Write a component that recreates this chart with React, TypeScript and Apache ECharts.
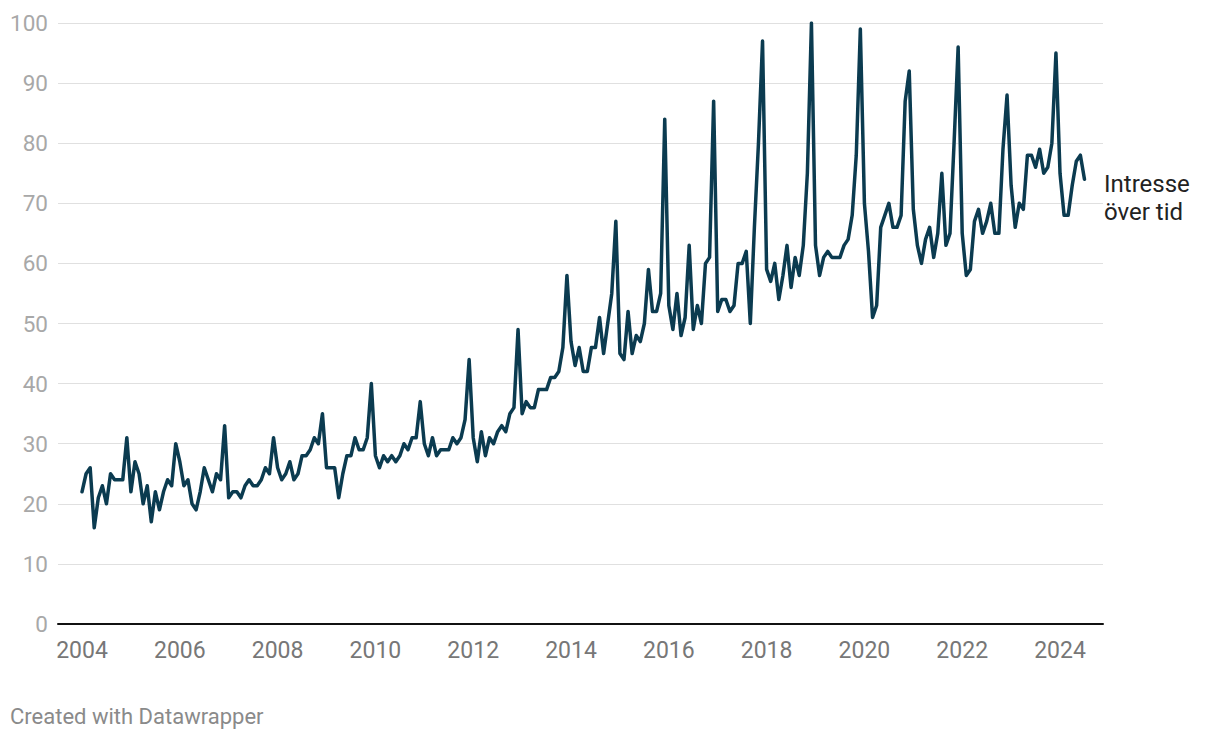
import React, { useEffect, useRef } from "react";
import * as echarts from "echarts";

// Monthly values, Jan 2004 – Jul 2024
const v2004 = [22, 25, 26, 16, 21, 23, 20, 25, 24, 24, 24, 31];
const v2005 = [22, 27, 25, 20, 23, 17, 22, 19, 22, 24, 23, 30];
const v2006 = [27, 23, 24, 20, 19, 22, 26, 24, 22, 25, 24, 33];
const v2007 = [21, 22, 22, 21, 23, 24, 23, 23, 24, 26, 25, 31];
const v2008 = [26, 24, 25, 27, 24, 25, 28, 28, 29, 31, 30, 35];
const v2009 = [26, 26, 26, 21, 25, 28, 28, 31, 29, 29, 31, 40];
const v2010 = [28, 26, 28, 27, 28, 27, 28, 30, 29, 31, 31, 37];
const v2011 = [30, 28, 31, 28, 29, 29, 29, 31, 30, 31, 34, 44];
const v2012 = [31, 27, 32, 28, 31, 30, 32, 33, 32, 35, 36, 49];
const v2013 = [35, 37, 36, 36, 39, 39, 39, 41, 41, 42, 46, 58];
const v2014 = [47, 43, 46, 42, 42, 46, 46, 51, 45, 50, 55, 67];
const v2015 = [45, 44, 52, 45, 48, 47, 50, 59, 52, 52, 55, 84];
const v2016 = [53, 49, 55, 48, 51, 63, 49, 53, 50, 60, 61, 87];
const v2017 = [52, 54, 54, 52, 53, 60, 60, 62, 50, 66, 80, 97];
const v2018 = [59, 57, 60, 54, 58, 63, 56, 61, 58, 63, 75, 100];
const v2019 = [63, 58, 61, 62, 61, 61, 61, 63, 64, 68, 78, 99];
const v2020 = [70, 62, 51, 53, 66, 68, 70, 66, 66, 68, 87, 92];
const v2021 = [69, 63, 60, 64, 66, 61, 65, 75, 63, 65, 80, 96];
const v2022 = [65, 58, 59, 67, 69, 65, 67, 70, 65, 65, 79, 88];
const v2023 = [73, 66, 70, 69, 78, 78, 76, 79, 75, 76, 80, 95];
const v2024 = [75, 68, 68, 73, 77, 78, 74];

const startYear = 2004;
const xTickYears = [2004, 2006, 2008, 2010, 2012, 2014, 2016, 2018, 2020, 2022, 2024];
const seriesLabel = "Intresse\növer tid";
const footer = "Created with Datawrapper";

const values = [
  ...v2004, ...v2005, ...v2006, ...v2007, ...v2008, ...v2009, ...v2010,
  ...v2011, ...v2012, ...v2013, ...v2014, ...v2015, ...v2016, ...v2017,
  ...v2018, ...v2019, ...v2020, ...v2021, ...v2022, ...v2023, ...v2024,
];

export default function App() {
  const ref = useRef<HTMLDivElement>(null);
  useEffect(() => {
    if (!ref.current) return;
    const chart = echarts.init(ref.current, null, { renderer: "svg" });
    const data = values.map((v, i) => [startYear + i / 12, v]);
    chart.setOption({
      animation: false,
      textStyle: { fontFamily: "Roboto" },
      grid: { left: 58, right: 117, top: 23, bottom: 116, containLabel: false },
      xAxis: {
        type: "value",
        min: 2003.509,
        max: 2024.879,
        axisLine: { show: true, lineStyle: { color: "#111", width: 2 } },
        axisTick: { show: false },
        splitLine: { show: false },
        axisLabel: {
          customValues: xTickYears,
          formatter: (v: number) => String(Math.round(v)),
          fontSize: 23,
          color: "#777",
          margin: 15,
          fontFamily: "Roboto",
        },
      },
      yAxis: {
        type: "value",
        min: 0,
        max: 100,
        interval: 10,
        axisLine: { show: false },
        axisTick: { show: false },
        splitLine: { lineStyle: { color: "#e0e0e0", width: 1 } },
        axisLabel: {
          fontSize: 22.5,
          color: "#a8a8a8",
          margin: 10,
          fontFamily: "Roboto",
        },
      },
      series: [
        {
          type: "line",
          data,
          symbol: "none",
          lineStyle: { color: "#0b3b50", width: 3.5, join: "round", cap: "round" },
          z: 5,
        },
      ],
      graphic: [
        {
          type: "text",
          left: 1104,
          top: 170,
          style: {
            text: seriesLabel,
            fontSize: 24,
            lineHeight: 28,
            fill: "#222",
            fontFamily: "Roboto",
          },
        },
        {
          type: "text",
          left: 10,
          top: 705,
          style: {
            text: footer,
            fontSize: 22,
            fill: "#8a8a8a",
            fontFamily: "Roboto",
          },
        },
      ],
    });
    return () => chart.dispose();
  }, []);
  return (
    <div
      ref={ref}
      style={{ position: "fixed", left: 0, top: 0, width: 1220, height: 740, background: "#fff" }}
    />
  );
}
